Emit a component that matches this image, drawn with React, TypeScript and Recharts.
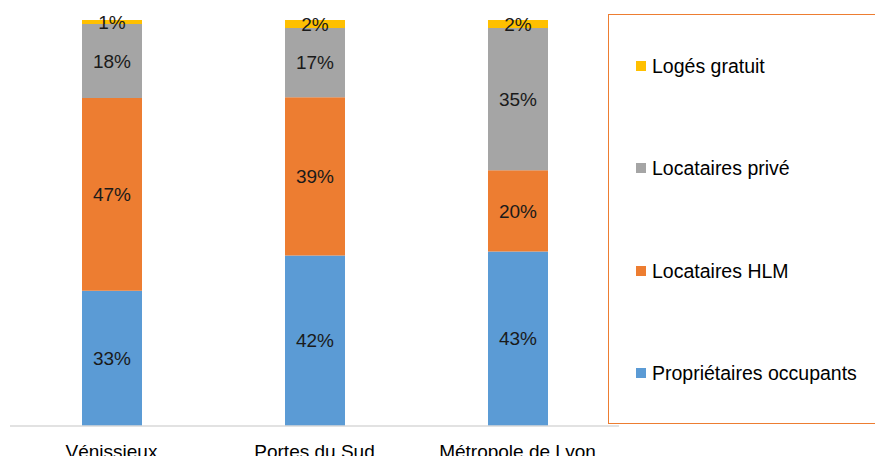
import { BarChart, Bar, XAxis, YAxis, Legend, LabelList } from "recharts";

const categories = ["Vénissieux", "Portes du Sud", "Métropole de Lyon"];
const proprietaires = [33, 42, 43];
const locHLM = [47, 39, 20];
const locPrive = [18, 17, 35];
const logesGratuit = [1, 2, 2];

const series = [
  { key: "prop", name: "Propriétaires occupants", color: "#5B9BD5", values: proprietaires },
  { key: "hlm", name: "Locataires HLM", color: "#ED7D31", values: locHLM },
  { key: "prive", name: "Locataires privé", color: "#A5A5A5", values: locPrive },
  { key: "gratuit", name: "Logés gratuit", color: "#FFC000", values: logesGratuit },
];

const data = categories.map((name, i) => {
  const row: any = { name };
  series.forEach((s) => (row[s.key] = s.values[i]));
  return row;
});

const font = "'Liberation Sans', Arial, sans-serif";

// legend box is wider than its wrapper so recharts only reserves 256px
const renderLegend = () => (
  <div
    style={{
      width: 300,
      height: 410,
      border: "1.5px solid #ED7D31",
      boxSizing: "border-box",
      position: "relative",
      fontFamily: font,
      fontSize: 19.5,
      color: "#000",
    }}
  >
    {[...series].reverse().map((s, i) => (
      <div
        key={s.key}
        style={{
          position: "absolute",
          left: 27,
          top: 40 + i * 102.3,
          height: 22,
          lineHeight: "22px",
          display: "flex",
          alignItems: "center",
          whiteSpace: "nowrap",
        }}
      >
        <span style={{ width: 10, height: 10, background: s.color, display: "inline-block", marginRight: 6 }} />
        {s.name}
      </div>
    ))}
  </div>
);

const renderTick = (props: any) => {
  const { x, y, payload } = props;
  return (
    <text x={x} y={y + 24} textAnchor="middle" fontFamily={font} fontSize={19} fill="#000">
      {payload.value}
    </text>
  );
};

export default function App() {
  return (
    <div style={{ position: "absolute", left: 0, top: 0, width: 875, height: 456, overflow: "hidden", background: "#fff" }}>
      <BarChart
        width={875}
        height={456}
        data={data}
        stackOffset="expand"
        margin={{ top: 20, right: 0, left: 10, bottom: 0 }}
      >
        <XAxis
          dataKey="name"
          height={30}
          interval={0}
          tickLine={false}
          axisLine={{ stroke: "#D9D9D9", strokeWidth: 1.5 }}
          tick={renderTick}
        />
        <YAxis hide domain={[0, 1]} />
        <Legend
          content={renderLegend}
          layout="vertical"
          verticalAlign="top"
          align="right"
          wrapperStyle={{ position: "absolute", left: 608, top: 14, width: 256, height: 410 }}
        />
        {series.map((s) => (
          <Bar key={s.key} dataKey={s.key} name={s.name} stackId="a" fill={s.color} barSize={60} isAnimationActive={false}>
            <LabelList
              dataKey={s.key}
              position="center"
              formatter={(v: any) => `${v}%`}
              style={{ fontFamily: font, fontSize: 19, fill: "#1a1a1a" }}
            />
          </Bar>
        ))}
      </BarChart>
    </div>
  );
}
